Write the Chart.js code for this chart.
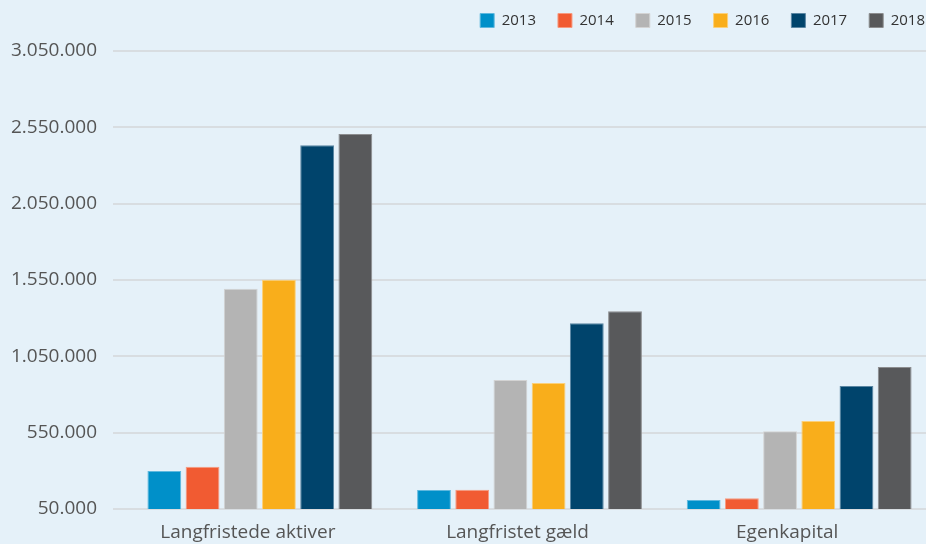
<!DOCTYPE html>
<html>
<head>
<meta charset="utf-8">
<script src="https://cdn.jsdelivr.net/npm/chart.js@4.4.1/dist/chart.umd.min.js"></script>
<style>
  html, body { margin: 0; padding: 0; background: #e5f1f9; }
  #wrap { width: 926px; height: 544px; overflow: hidden; position: relative; background: #e5f1f9; }
  canvas { display: block; }
</style>
</head>
<body>
<div id="wrap"><canvas id="c" width="940" height="544"></canvas></div>
<script>
const categories = ['Langfristede aktiver', 'Langfristet gæld', 'Egenkapital'];
const years = ['2013', '2014', '2015', '2016', '2017', '2018'];
const v2013 = [299000, 175000, 109000];
const v2014 = [327000, 176000, 120000];
const v2015 = [1492000, 895000, 559000];
const v2016 = [1551000, 876000, 627000];
const v2017 = [2433000, 1267000, 856000];
const v2018 = [2507000, 1346000, 980000];
const yMin = 50000;
const yMax = 3050000;
const yStep = 500000;

const colors = ['#0090c9', '#f15b32', '#b4b4b4', '#f9ae1b', '#00446c', '#58595b'];
const borders = ['#5fb8de', '#f79a80', '#d3d3d3', '#fbd07a', '#5a86a3', '#8c8d8f'];
const seriesValues = [v2013, v2014, v2015, v2016, v2017, v2018];

function fmt(v) {
  return String(v).replace(/\B(?=(\d{3})+(?!\d))/g, '.');
}

const legendTweak = {
  id: 'legendTweak',
  beforeInit(chart) {
    const lg = chart.legend;
    const fit = lg.fit;
    lg.fit = function () {
      fit.call(this);
      this.height = 51;
    };
  },
  afterLayout(chart) {
    const lg = chart.legend;
    lg.left += 13;
    lg.right += 13;
    lg.top -= 9;
    lg.bottom -= 9;
  }
};

new Chart(document.getElementById('c'), {
  type: 'bar',
  data: {
    labels: categories,
    datasets: years.map((y, i) => ({
      label: y,
      data: seriesValues[i],
      backgroundColor: colors[i],
      borderColor: borders[i],
      borderWidth: 1,
      borderSkipped: 'bottom',
      categoryPercentage: 0.85,
      barPercentage: 0.885
    }))
  },
  options: {
    responsive: false,
    animation: false,
    layout: { padding: { left: 0, right: 6, top: 0, bottom: 0 } },
    plugins: {
      tooltip: { enabled: false },
      legend: {
        position: 'top',
        align: 'end',
        labels: {
          boxWidth: 14,
          boxHeight: 14,
          padding: 22,
          color: '#333333',
          font: { family: 'Open Sans', size: 15 }
        }
      }
    },
    scales: {
      x: {
        grid: { display: false, drawTicks: false },
        border: { display: false },
        ticks: {
          padding: 12,
          labelOffset: -12,
          color: '#555555',
          font: { family: 'Open Sans', size: 19 }
        },
        afterFit(scale) { scale.height = 35; }
      },
      y: {
        min: yMin,
        max: yMax,
        border: { display: false },
        grid: { color: '#d8dde1', lineWidth: 2, drawTicks: true, tickLength: 12 },
        ticks: {
          stepSize: yStep,
          padding: 16,
          color: '#555555',
          font: { family: 'Open Sans', size: 19 },
          callback: (v) => fmt(v)
        },
        afterFit(scale) { scale.width = 125; }
      }
    }
  },
  plugins: [legendTweak]
});
</script>
</body>
</html>
